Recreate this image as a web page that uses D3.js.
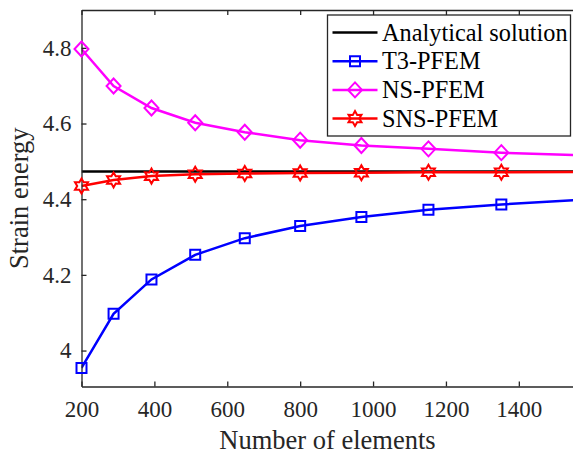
<!DOCTYPE html>
<html>
<head>
<meta charset="utf-8">
<script src="https://cdn.jsdelivr.net/npm/d3@7"></script>
<style>
    body { margin: 0; background: #fff; }
    #chart-area { width: 573px; height: 455px; }
    text { font-family: "Liberation Serif", "Times New Roman", serif; }
</style>
</head>
<body>
<div id="chart-area"></div>
<script>
// mesh sizes (2*n^2), last one sits just past the x limit
const elements = [200, 288, 392, 512, 648, 800, 968, 1152, 1352, 1568];

const analytical = 4.473;
const t3Pfem = [3.954, 4.097, 4.188, 4.253, 4.297, 4.329, 4.353, 4.372, 4.386, 4.398];
const nsPfem = [4.797, 4.699, 4.641, 4.602, 4.577, 4.556, 4.542, 4.533, 4.523, 4.516];
const snsPfem = [4.435, 4.451, 4.461, 4.466, 4.468, 4.469, 4.470, 4.471, 4.471, 4.472];

const xTicks = [200, 400, 600, 800, 1000, 1200, 1400];
const yTicks = [4, 4.2, 4.4, 4.6, 4.8];

const seriesNames = ["Analytical solution", "T3-PFEM", "NS-PFEM", "SNS-PFEM"];

class StrainChart {
    constructor(parentElement) {
        this.parentElement = parentElement;
        this.initVis();
    }

    initVis() {
        let vis = this;

        vis.margin = { top: 10, right: -0.5, bottom: 68.5, left: 81.5 };
        vis.width = 573 - vis.margin.left - vis.margin.right;
        vis.height = 455 - vis.margin.top - vis.margin.bottom;

        vis.svg = d3.select("#" + vis.parentElement).append("svg")
            .attr("width", 573)
            .attr("height", 455)
            .append("g")
            .attr("transform", "translate(" + vis.margin.left + "," + vis.margin.top + ")");

        vis.x = d3.scaleLinear()
            .domain([200, 1550])
            .range([0, vis.width]);

        vis.y = d3.scaleLinear()
            .domain([3.905, 4.9])
            .range([vis.height, 0]);

        vis.svg.append("clipPath")
            .attr("id", "clip")
            .append("rect")
            .attr("width", vis.width)
            .attr("height", vis.height);

        vis.wrangleData();
    }

    wrangleData() {
        let vis = this;
        const pts = vals => elements.map((e, i) => ({ x: e, y: vals[i] }));

        vis.displayData = [
            { name: seriesNames[1], color: "#0000ff", marker: "square", values: pts(t3Pfem) },
            { name: seriesNames[2], color: "#ff00ff", marker: "diamond", values: pts(nsPfem) },
            { name: seriesNames[3], color: "#ff0000", marker: "hexagram", values: pts(snsPfem) }
        ];

        vis.updateVis();
    }

    markerPath(type) {
        if (type === "square") {
            return "M-5,-5L5,-5L5,5L-5,5Z";
        }
        if (type === "diamond") {
            return "M0,-7.5L7,0L0,7.5L-7,0Z";
        }
        // six pointed star
        let p = [];
        for (let k = 0; k < 12; k++) {
            let r = k % 2 === 0 ? 7.5 : 4.3;
            let a = -Math.PI / 2 + k * Math.PI / 6;
            p.push([r * Math.cos(a), r * Math.sin(a)]);
        }
        return "M" + p.map(d => d[0].toFixed(2) + "," + d[1].toFixed(2)).join("L") + "Z";
    }

    updateVis() {
        let vis = this;
        const axisColor = "#262626";
        const xMax = vis.x.domain()[1];

        let plot = vis.svg.append("g").attr("clip-path", "url(#clip)");

        // exact value
        plot.append("line")
            .attr("x1", 0)
            .attr("x2", vis.width)
            .attr("y1", vis.y(analytical))
            .attr("y2", vis.y(analytical))
            .style("stroke", "#000")
            .style("stroke-width", 2.5);

        let line = d3.line()
            .x(d => vis.x(d.x))
            .y(d => vis.y(d.y));

        vis.displayData.forEach(s => {
            plot.append("path")
                .datum(s.values)
                .attr("fill", "none")
                .style("stroke", s.color)
                .style("stroke-width", 2.5)
                .attr("d", line);
        });

        // axes with inward ticks
        let xAxis = d3.axisBottom(vis.x).tickValues(xTicks).tickSizeInner(-5).tickSizeOuter(0).tickPadding(14)
            .tickFormat(d3.format("d"));
        let xAxisTop = d3.axisTop(vis.x).tickValues(xTicks).tickSizeInner(-5).tickSizeOuter(0).tickFormat("");
        let yAxis = d3.axisLeft(vis.y).tickValues(yTicks).tickSizeInner(-5).tickSizeOuter(0).tickPadding(10)
            .tickFormat(d => String(+d.toFixed(1)));

        let gx = vis.svg.append("g")
            .attr("class", "x axis")
            .attr("transform", "translate(0," + vis.height + ")")
            .call(xAxis);

        let gxTop = vis.svg.append("g")
            .attr("class", "x axis")
            .call(xAxisTop);

        let gy = vis.svg.append("g")
            .attr("class", "y axis")
            .call(yAxis);

        [gx, gxTop, gy].forEach(g => {
            g.selectAll("path, line").style("stroke", axisColor).style("stroke-width", 1.3);
            g.selectAll("text")
                .style("font-family", "'Liberation Serif', 'Times New Roman', serif")
                .style("font-size", "23px")
                .style("fill", axisColor);
        });

        // markers on top of the axes, only for points inside the x limit
        vis.displayData.forEach(s => {
            vis.svg.selectAll(".dot-" + s.marker)
                .data(s.values.filter(d => d.x <= xMax))
                .enter().append("path")
                .attr("class", "dot-" + s.marker)
                .attr("transform", d => "translate(" + vis.x(d.x) + "," + vis.y(d.y) + ")")
                .attr("d", vis.markerPath(s.marker))
                .attr("fill", "none")
                .style("stroke", s.color)
                .style("stroke-width", 2);
        });

        vis.svg.append("text")
            .attr("x", vis.x(875))
            .attr("y", vis.height + 62.5)
            .style("text-anchor", "middle")
            .style("font-size", "26.5px")
            .style("fill", axisColor)
            .text("Number of elements");

        vis.svg.append("text")
            .attr("transform", "rotate(-90)")
            .attr("x", -vis.height / 2)
            .attr("y", -54)
            .style("text-anchor", "middle")
            .style("font-size", "26.5px")
            .style("fill", axisColor)
            .text("Strain energy");

        // legend
        let legend = vis.svg.append("g")
            .attr("transform", "translate(" + (327.5 - vis.margin.left) + "," + (15 - vis.margin.top) + ")");

        legend.append("rect")
            .attr("width", 243)
            .attr("height", 121)
            .attr("fill", "#fff")
            .style("stroke", axisColor)
            .style("stroke-width", 1.3);

        let entries = [{ name: seriesNames[0], color: "#000", marker: null }].concat(vis.displayData);

        entries.forEach((s, i) => {
            let cy = 17.5 + i * 28.7;
            legend.append("line")
                .attr("x1", 5)
                .attr("x2", 50)
                .attr("y1", cy)
                .attr("y2", cy)
                .style("stroke", s.color)
                .style("stroke-width", 2.5);

            if (s.marker) {
                legend.append("path")
                    .attr("transform", "translate(27.5," + cy + ")")
                    .attr("d", vis.markerPath(s.marker))
                    .attr("fill", "none")
                    .style("stroke", s.color)
                    .style("stroke-width", 2);
            }

            legend.append("text")
                .attr("x", 54.5)
                .attr("y", cy + 8)
                .style("font-size", "24.3px")
                .style("fill", "#000")
                .text(s.name);
        });
    }
}

new StrainChart("chart-area");
</script>
</body>
</html>
